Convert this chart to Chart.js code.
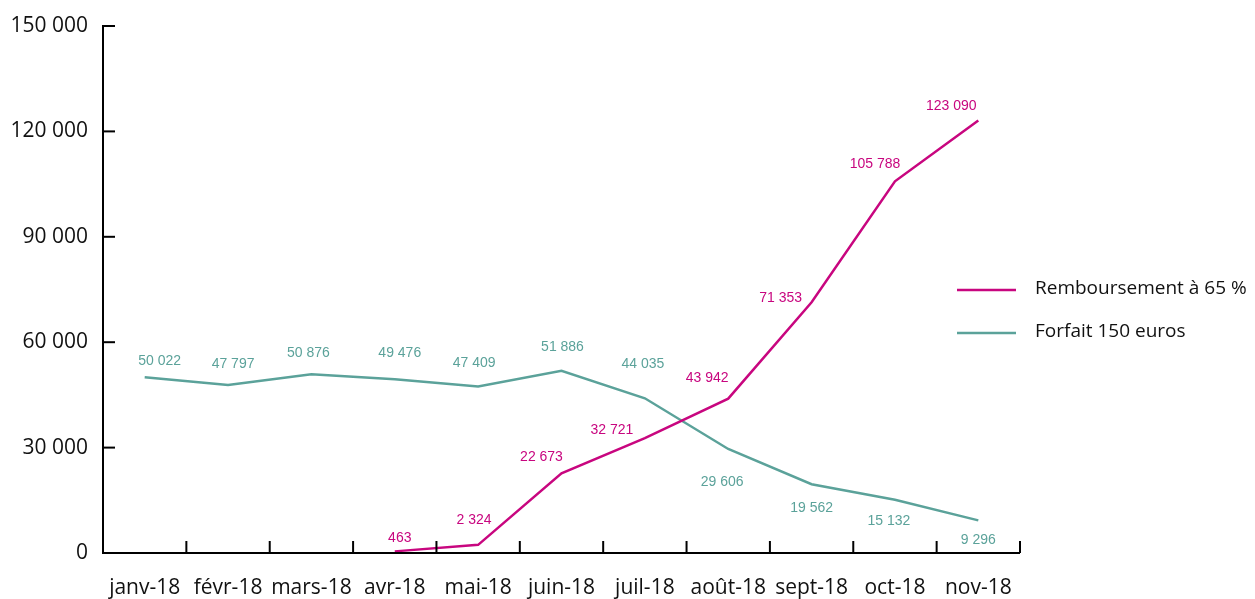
<!DOCTYPE html>
<html>
<head>
<meta charset="utf-8">
<script src="https://cdn.jsdelivr.net/npm/chart.js@4.4.0/dist/chart.umd.min.js"></script>
<style>
  html, body { margin: 0; padding: 0; background: #fff; }
  #wrap { width: 1255px; height: 599px; }
</style>
</head>
<body>
<div id="wrap"><canvas id="lineChart"></canvas></div>
<script>
'use strict'

// data
var months = ['janv-18', 'févr-18', 'mars-18', 'avr-18', 'mai-18', 'juin-18', 'juil-18', 'août-18', 'sept-18', 'oct-18', 'nov-18'];
var remboursement = [null, null, null, 463, 2324, 22673, 32721, 43942, 71353, 105788, 123090];
var forfait = [50022, 47797, 50876, 49476, 47409, 51886, 44035, 29606, 19562, 15132, 9296];
var yTicks = [0, 30000, 60000, 90000, 120000, 150000];

// where each value label sits relative to its point (px)
var labelOffsets = [
  [null, null, null, [5, -13], [-4, -25], [-20, -16], [-33, -8], [-21, -20], [-31, -4], [-20, -17], [-27, -14]],
  [[15, -16], [5, -21], [-3, -21], [5, -26], [-4, -23], [1, -24], [-2, -34], [-6, 33], [0, 24], [-6, 21], [0, 20]]
];

var MAGENTA = '#c8067f';
var TEAL = '#5ba29a';
var AXIS_FONT = '21px "Open Sans", "Noto Sans", sans-serif';

var fmt = function(v) {
  return String(v).replace(/\B(?=(\d{3})+(?!\d))/g, ' ');
};

// draws axes, inward tick marks, tick labels, point labels and legend
var drawStuff = {
  id: 'drawStuff',
  afterDatasetsDraw: function(chart) {
    var ctx = chart.ctx;
    var x = chart.scales.x, y = chart.scales.y;
    var area = chart.chartArea;
    ctx.save();

    // axes
    ctx.strokeStyle = '#000';
    ctx.lineWidth = 2;
    ctx.beginPath();
    ctx.moveTo(area.left, y.getPixelForValue(150000) - 1);
    ctx.lineTo(area.left, area.bottom);
    ctx.lineTo(area.right, area.bottom);
    ctx.stroke();

    // y ticks + labels
    ctx.font = AXIS_FONT;
    ctx.fillStyle = '#111';
    ctx.textAlign = 'right';
    ctx.textBaseline = 'middle';
    yTicks.forEach(function(t) {
      var py = y.getPixelForValue(t);
      ctx.beginPath();
      ctx.moveTo(area.left, py);
      ctx.lineTo(area.left + 12, py);
      ctx.stroke();
      ctx.fillText(fmt(t), area.left - 15, py);
    });

    // x ticks between categories + labels
    ctx.textAlign = 'center';
    for (var i = 0; i < months.length; i++) {
      var px = x.getPixelForValue(i);
      var step = i < months.length - 1 ? x.getPixelForValue(i + 1) - px : px - x.getPixelForValue(i - 1);
      var bx = px + step / 2;
      ctx.beginPath();
      ctx.moveTo(bx, area.bottom);
      ctx.lineTo(bx, area.bottom - 12);
      ctx.stroke();
      ctx.fillText(months[i], px, area.bottom + 35);
    }

    // point labels
    ctx.font = '14px "Liberation Sans", Arial, sans-serif';
    chart.data.datasets.forEach(function(ds, di) {
      var meta = chart.getDatasetMeta(di);
      ctx.fillStyle = ds.borderColor;
      meta.data.forEach(function(pt, j) {
        var v = ds.data[j];
        if (v === null) return;
        var off = labelOffsets[di][j];
        ctx.fillText(fmt(v), pt.x + off[0], pt.y + off[1]);
      });
    });

    // legend
    ctx.font = '19px "Open Sans", "Noto Sans", sans-serif';
    ctx.textAlign = 'left';
    ctx.fillStyle = '#111';
    chart.data.datasets.forEach(function(ds, di) {
      var ly = 290 + di * 43;
      ctx.strokeStyle = ds.borderColor;
      ctx.lineWidth = 2.5;
      ctx.beginPath();
      ctx.moveTo(957, ly);
      ctx.lineTo(1016, ly);
      ctx.stroke();
      ctx.fillText(ds.label, 1035, ly - 1);
    });

    ctx.restore();
  }
};

var chart = document.getElementById('lineChart');

let lineChart = new Chart(chart, {
  type: 'line',
  data: {
    labels: months,
    datasets: [{
      label: 'Remboursement à 65 %',
      data: remboursement,
      borderColor: MAGENTA,
      borderWidth: 2.5,
      pointRadius: 0,
      tension: 0
    }, {
      label: 'Forfait 150 euros',
      data: forfait,
      borderColor: TEAL,
      borderWidth: 2.5,
      pointRadius: 0,
      tension: 0
    }]
  },
  options: {
    responsive: true,
    maintainAspectRatio: false,
    animation: false,
    layout: { padding: { left: 103, right: 235, top: 26, bottom: 46 } },
    plugins: {
      legend: { display: false },
      tooltip: { enabled: false }
    },
    scales: {
      x: { display: false, offset: true },
      y: { display: false, min: 0, max: 150000 }
    }
  },
  plugins: [drawStuff]
});
</script>
</body>
</html>
